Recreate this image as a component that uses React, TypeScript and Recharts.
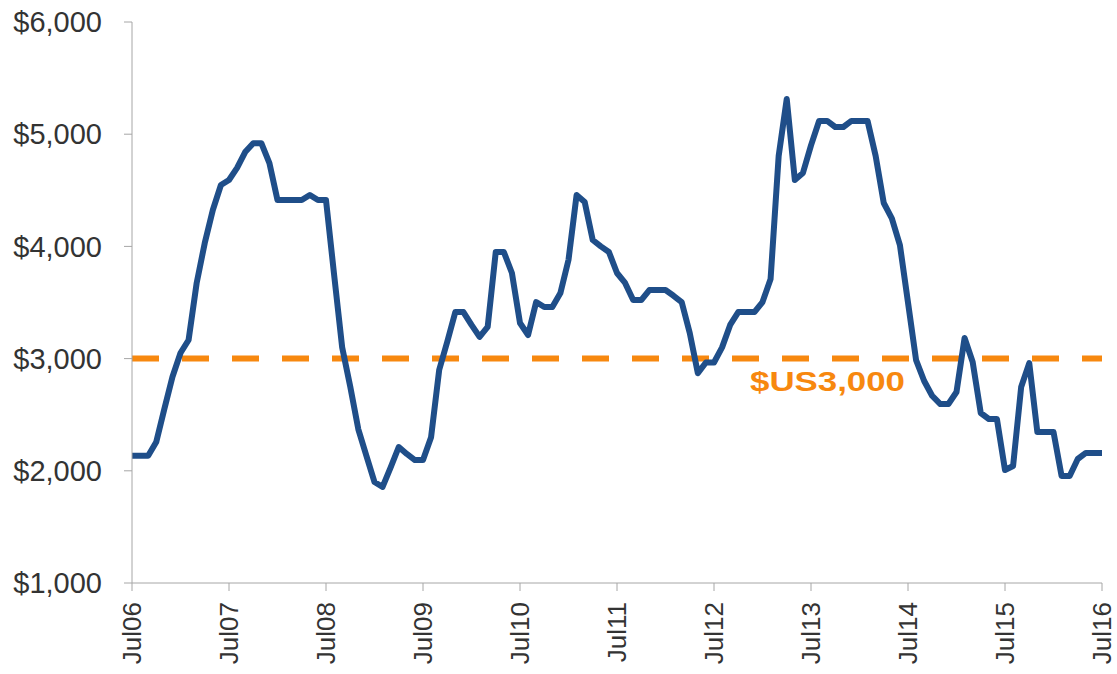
import { LineChart, Line, XAxis, YAxis, ReferenceLine } from "recharts";

// monthly price, Jul06 .. Jul16 (US$)
const prices2006 = [2135, 2135, 2135, 2257, 2550, 2836];
const prices2007 = [3050, 3166, 3674, 4030, 4324, 4547, 4592, 4700, 4841, 4920, 4920, 4743];
const prices2008 = [4413, 4413, 4413, 4413, 4458, 4413, 4413, 3750, 3100, 2750, 2370, 2134];
const prices2009 = [1900, 1856, 2030, 2212, 2150, 2096, 2096, 2300, 2898, 3150, 3415, 3415];
const prices2010 = [3300, 3193, 3282, 3950, 3950, 3763, 3317, 3210, 3504, 3460, 3460, 3585];
const prices2011 = [3880, 4458, 4396, 4057, 4000, 3950, 3763, 3674, 3522, 3522, 3611, 3611];
const prices2012 = [3611, 3560, 3504, 3228, 2870, 2965, 2965, 3100, 3300, 3415, 3415, 3415];
const prices2013 = [3504, 3709, 4806, 5314, 4592, 4654, 4900, 5118, 5118, 5064, 5064, 5118];
const prices2014 = [5118, 5118, 4806, 4387, 4250, 4012, 3500, 2987, 2800, 2667, 2595, 2595];
const prices2015 = [2702, 3184, 2970, 2515, 2462, 2462, 2007, 2043, 2747, 2960, 2346, 2346];
const prices2016 = [2346, 1954, 1954, 2105, 2159, 2159, 2159];

const tickLabels = ["Jul06", "Jul07", "Jul08", "Jul09", "Jul10", "Jul11", "Jul12", "Jul13", "Jul14", "Jul15", "Jul16"];
const yTicks = [1000, 2000, 3000, 4000, 5000, 6000];
const threshold = 3000;
const thresholdLabel = "$US3,000";

const prices = [
  ...prices2006, ...prices2007, ...prices2008, ...prices2009, ...prices2010, ...prices2011,
  ...prices2012, ...prices2013, ...prices2014, ...prices2015, ...prices2016,
];
const data = prices.map((price, i) => ({ i, price }));
const xTicks = tickLabels.map((_, k) => k * 12);

const FONT = "'Liberation Sans', Arial, sans-serif";
const AXIS = "#a6a6a6";
const TEXT = "#333333";
const BLUE = "#1F4E89";
const ORANGE = "#F7880F";

const XTick = (props: any) => {
  const { x, y, payload } = props;
  return (
    <text
      x={x}
      y={y}
      dy={9}
      transform={`rotate(-90 ${x} ${y})`}
      textAnchor="end"
      fontFamily={FONT}
      fontSize={26}
      fill={TEXT}
    >
      {tickLabels[payload.value / 12]}
    </text>
  );
};

const ThresholdLabel = (props: any) => {
  const { viewBox } = props;
  return (
    <text
      x={viewBox.x + 618}
      y={viewBox.y + 32}
      fontFamily={FONT}
      fontSize={27}
      fontWeight="bold"
      fill={ORANGE}
      textLength={155}
      lengthAdjust="spacingAndGlyphs"
    >
      {thresholdLabel}
    </text>
  );
};

export default function App() {
  return (
    <div style={{ width: 1117, height: 674, background: "#fff" }}>
      <style>{"body { margin: 0; }"}</style>
      <LineChart width={1117} height={674} data={data} margin={{ top: 22, right: 15, bottom: 0, left: 0 }}>
        <XAxis
          dataKey="i"
          type="number"
          domain={[0, 120]}
          ticks={xTicks}
          interval={0}
          height={91}
          stroke={AXIS}
          tickSize={8}
          tickMargin={11}
          tick={<XTick />}
        />
        <YAxis
          type="number"
          domain={[1000, 6000]}
          ticks={yTicks}
          interval={0}
          width={132}
          stroke={AXIS}
          tickSize={8}
          tickMargin={22}
          tick={{ fontFamily: FONT, fontSize: 29, fill: TEXT }}
          tickFormatter={(v: number) => "$" + v.toLocaleString("en-US")}
        />
        <ReferenceLine
          y={threshold}
          stroke={ORANGE}
          strokeWidth={6}
          strokeDasharray="27 23"
          label={<ThresholdLabel />}
        />
        <Line
          type="linear"
          dataKey="price"
          stroke={BLUE}
          strokeWidth={6}
          strokeLinejoin="round"
          dot={false}
          isAnimationActive={false}
        />
      </LineChart>
    </div>
  );
}
